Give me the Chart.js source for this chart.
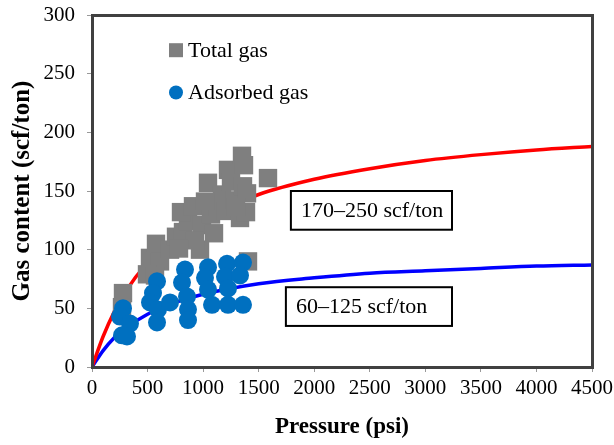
<!DOCTYPE html>
<html>
<head>
<meta charset="utf-8">
<script src="https://cdn.jsdelivr.net/npm/chart.js@4/dist/chart.umd.min.js"></script>
<style>
  html, body { margin: 0; padding: 0; background: #fff; }
  #wrap { width: 614px; height: 445px; }
</style>
</head>
<body>
<div id="wrap"><canvas id="graficoGas" width="614" height="445"></canvas></div>
<script>
// total gas (squares), pressure in psi and content in scf/ton
const totalPressao = [279, 270, 522, 576, 612, 495, 567, 702, 756, 819, 864, 801, 909, 990, 972, 1044, 1071, 1134, 1098, 1170, 1224, 1251, 1206, 1287, 1350, 1368, 1359, 1395, 1332, 1386, 1584, 1404, 1296, 927, 783, 1017];
const totalGas = [63, 51, 93, 105, 90, 79, 78, 100, 111, 115, 124, 132, 137, 121, 100, 157, 130, 136, 114, 147, 168, 158, 133, 142, 180, 172, 154, 148, 127, 132, 161, 90, 136, 108, 101, 141];

// adsorbed gas (circles)
const adsPressao = [279, 252, 342, 270, 315, 585, 549, 522, 594, 585, 702, 837, 810, 855, 864, 864, 1044, 1017, 1044, 1080, 1215, 1197, 1224, 1224, 1359, 1332, 1359];
const adsGas = [50, 43, 37, 27, 26, 73, 63, 55, 49, 38, 55, 83, 72, 60, 49, 40, 85, 76, 66, 53, 88, 77, 67, 53, 89, 78, 53];

// fitted curves
const curvaPressao = [0, 100, 200, 300, 500, 750, 1000, 1500, 2000, 2500, 3000, 3500, 4000, 4500];
const curvaTotal = [0, 26, 47, 64, 89, 111, 126, 147, 160, 169, 176, 181, 185, 188];
const curvaAdsorvido = [0, 14, 25, 33, 45, 55, 62, 71, 76, 80, 82, 84, 86, 87];

const legendaNomes = ['Total gas', 'Adsorbed gas'];
const caixaTextos = ['170\u2013250 scf/ton', '60\u2013125 scf/ton'];

const xTicks = [0, 500, 1000, 1500, 2000, 2500, 3000, 3500, 4000, 4500];
const yTicks = [0, 50, 100, 150, 200, 250, 300];

const serif = '"Liberation Serif", "Times New Roman", serif';

const juntar = (xs, ys) => xs.map((x, i) => ({ x: x, y: ys[i] }));

const pluginExtras = {
    id: 'extras',
    afterDraw(chart) {
        const ctx = chart.ctx;
        const a = chart.chartArea;
        const sx = chart.scales.x, sy = chart.scales.y;
        ctx.save();

        // legend inside the plot
        ctx.font = '22px ' + serif;
        ctx.textBaseline = 'middle';
        let lx = sx.getPixelForValue(756), ly = sy.getPixelForValue(270);
        ctx.fillStyle = '#7f7f7f';
        ctx.fillRect(lx - 7, ly - 7, 14, 14);
        ctx.fillStyle = '#000';
        ctx.fillText(legendaNomes[0], lx + 12, ly + 1);
        ly = sy.getPixelForValue(234);
        ctx.fillStyle = '#0070c0';
        ctx.beginPath();
        ctx.arc(lx, ly, 7, 0, Math.PI * 2);
        ctx.fill();
        ctx.fillStyle = '#000';
        ctx.fillText(legendaNomes[1], lx + 12, ly + 1);

        // annotation boxes
        const caixas = [
            { x0: 1790, x1: 3240, y0: 150, y1: 117, t: caixaTextos[0], tx: 1880 },
            { x0: 1745, x1: 3240, y0: 68, y1: 35, t: caixaTextos[1], tx: 1835 }
        ];
        ctx.lineWidth = 2;
        ctx.strokeStyle = '#000';
        caixas.forEach(c => {
            const px0 = sx.getPixelForValue(c.x0), px1 = sx.getPixelForValue(c.x1);
            const py0 = sy.getPixelForValue(c.y0), py1 = sy.getPixelForValue(c.y1);
            ctx.fillStyle = '#fff';
            ctx.fillRect(px0, py0, px1 - px0, py1 - py0);
            ctx.strokeRect(px0, py0, px1 - px0, py1 - py0);
            ctx.fillStyle = '#000';
            ctx.fillText(c.t, sx.getPixelForValue(c.tx), (py0 + py1) / 2 + 1);
        });

        // dark frame round the plot
        const l = Math.round(a.left), t = Math.round(a.top);
        const r = Math.round(a.right), b = Math.round(a.bottom);
        ctx.fillStyle = '#404040';
        ctx.fillRect(l - 1, t - 1, r - l + 3, 3);
        ctx.fillRect(l - 1, b - 1, r - l + 3, 3);
        ctx.fillRect(l - 1, t - 1, 3, b - t + 3);
        ctx.fillRect(r - 1, t - 1, 3, b - t + 3);
        ctx.restore();
    }
};

new Chart(document.getElementById('graficoGas'), {
    type: 'scatter',
    data: {
        datasets: [
            {
                label: legendaNomes[1],
                data: juntar(adsPressao, adsGas),
                pointStyle: 'circle',
                pointRadius: 9,
                backgroundColor: '#0070c0',
                borderWidth: 0
            },
            {
                label: legendaNomes[0],
                data: juntar(totalPressao, totalGas),
                pointStyle: 'rect',
                pointRadius: 13,
                backgroundColor: '#7f7f7f',
                borderWidth: 0
            },
            {
                label: 'Total fit',
                type: 'line',
                data: juntar(curvaPressao, curvaTotal),
                borderColor: '#ff0000',
                borderWidth: 3.5,
                pointRadius: 0,
                cubicInterpolationMode: 'monotone',
                fill: false
            },
            {
                label: 'Adsorbed fit',
                type: 'line',
                data: juntar(curvaPressao, curvaAdsorvido),
                borderColor: '#0000ff',
                borderWidth: 3.5,
                pointRadius: 0,
                cubicInterpolationMode: 'monotone',
                fill: false
            }
        ]
    },
    options: {
        responsive: false,
        animation: false,
        devicePixelRatio: 1,
        layout: { padding: { top: 15, right: 22, left: 4, bottom: 0 } },
        scales: {
            x: {
                type: 'linear', min: 0, max: 4500,
                afterBuildTicks: s => { s.ticks = xTicks.map(v => ({ value: v })); },
                afterFit: s => { s.height = 78; s.paddingLeft = 0; s.paddingRight = 0; },
                grid: { drawOnChartArea: false, tickLength: 5, color: '#999' },
                border: { display: false },
                ticks: { color: '#000', padding: 4, maxRotation: 0, font: { family: serif, size: 21 }, callback: v => String(v) },
                title: { display: true, text: 'Pressure (psi)', color: '#000', padding: { top: 6 }, font: { family: serif, size: 23, weight: 'bold' } }
            },
            y: {
                type: 'linear', min: 0, max: 300,
                afterBuildTicks: s => { s.ticks = yTicks.map(v => ({ value: v })); },
                afterFit: s => { s.width = 88; s.paddingTop = 0; s.paddingBottom = 0; },
                grid: { drawOnChartArea: false, tickLength: 5, color: '#999' },
                border: { display: false },
                ticks: { color: '#000', padding: 12, font: { family: serif, size: 21 }, callback: v => String(v) },
                title: { display: true, text: 'Gas content (scf/ton)', color: '#000', padding: { bottom: 0 }, font: { family: serif, size: 25, weight: 'bold' } }
            }
        },
        plugins: {
            legend: { display: false },
            tooltip: { enabled: false }
        }
    },
    plugins: [pluginExtras]
});
</script>
</body>
</html>
